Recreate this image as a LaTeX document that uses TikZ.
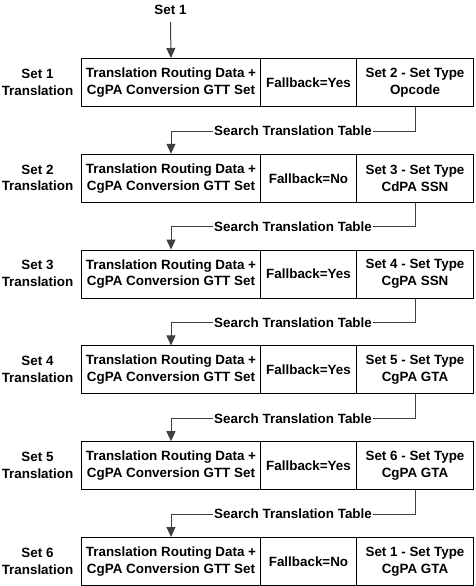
\documentclass[tikz,border=0pt]{standalone}
\usepackage{fontspec}
\setmainfont{Liberation Sans}
\usetikzlibrary{arrows.meta}
\definecolor{conncol}{HTML}{404040}
\begin{document}
\begin{tikzpicture}[x=1pt,y=-1pt,
  every node/.style={font=\bfseries\fontsize{13.4}{16.8}\selectfont},
  cell/.style={draw=black, line width=1pt, minimum height=48pt, anchor=north west, inner sep=0pt, align=center},
  rowlabel/.style={align=center},
  conn/.style={draw=conncol, line width=1pt, -{Triangle[length=10pt,width=9pt]}},
  connlabel/.style={fill=white, inner sep=1pt}]
\useasboundingbox (0,0) rectangle (476,586);
\def\rowsp{95.8}
\foreach \i/\nxt/\typ/\fb in {1/2/Opcode/Yes, 2/3/CdPA SSN/No, 3/4/CgPA SSN/Yes, 4/5/CgPA GTA/Yes, 5/6/CgPA GTA/Yes, 6/1/CgPA GTA/No} {
  \pgfmathsetmacro{\top}{58+(\i-1)*\rowsp}
  \node[cell, minimum width=179pt] (r\i a) at (81,\top) {Translation Routing Data +\\CgPA Conversion GTT Set};
  \node[cell, minimum width=96pt] (r\i b) at (260,\top) {Fallback=\fb};
  \node[cell, minimum width=117pt] (r\i c) at (356,\top) {Set \nxt\ - Set Type\\\typ};
  \node[rowlabel] (l\i) at (37.5,\top+24) {Set \i\\Translation};
}
\node (start) at (170.5,10) {Set 1};
\coordinate (s0) at (170.5,22);
\draw[conn] (s0) -- (r1a.north);
\foreach \i/\j in {1/2,2/3,3/4,4/5,5/6} {
  \draw[conn] (r\i c.south) -- ++(0,24) -| node[pos=0.25, connlabel] (t\i) {Search Translation Table} (r\j a.north);
}
\end{tikzpicture}
\end{document}
